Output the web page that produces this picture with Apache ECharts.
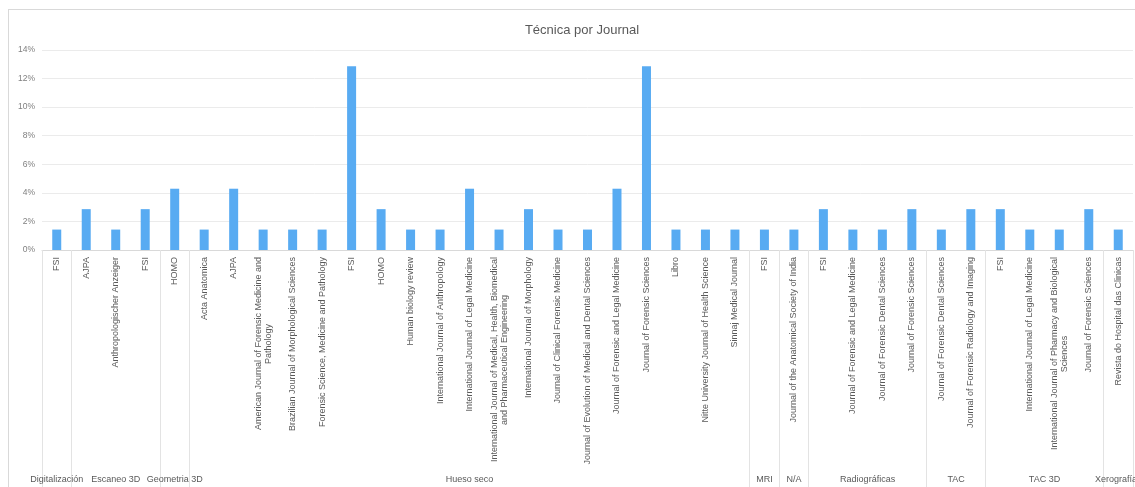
<!DOCTYPE html>
<html>
<head>
<meta charset="utf-8">
<script src="https://cdn.jsdelivr.net/npm/echarts@6/dist/echarts.min.js"></script>
<style>
html,body{margin:0;padding:0;background:#fff;overflow:hidden;}
#frame{position:absolute;left:8px;top:9px;width:1140px;height:490px;border:1px solid #d9d9d9;box-sizing:border-box;}
#chart{position:absolute;left:0;top:0;width:1135px;height:487px;}
</style>
</head>
<body>
<div id="frame"></div>
<div id="chart"></div>
<script>
// Outer grouping (técnica) and how many journals each contains
const groups = ['Digitalización','Escaneo 3D','Geometria 3D','Hueso seco','MRI','N/A','Radiográficas','TAC','TAC 3D','Xerografías'];
const groupCounts = [1, 3, 1, 19, 1, 1, 4, 2, 4, 1];

// Inner categories (journal)
const journals = [
  'FSI',
  'AJPA','Anthropologischer Anzeiger','FSI',
  'HOMO',
  'Acta Anatomica','AJPA','American Journal of Forensic Medicine and\nPathology','Brazilian Journal of Morphological Sciences',
  'Forensic Science, Medicine and Pathology','FSI','HOMO','Human biology review','International Journal of Anthropology',
  'International Journal of Legal Medicine','International Journal of Medical, Health, Biomedical\nand Pharmaceutical Engineering',
  'International Journal of Morphology','Journal of Clinical Forensic Medicine','Journal of Evolution of Medical and Dental Sciences',
  'Journal of Forensic and Legal Medicine','Journal of Forensic Sciences','Libro','Nitte University Journal of Health Science','Sinnaj Medical Journal',
  'FSI',
  'Journal of the Anatomical Society of India',
  'FSI','Journal of Forensic and Legal Medicine','Journal of Forensic Dental Sciences','Journal of Forensic Sciences',
  'Journal of Forensic Dental Sciences','Journal of Forensic Radiology and Imaging',
  'FSI','International Journal of Legal Medicine','International Journal of Pharmacy and Biological\nSciences','Journal of Forensic Sciences',
  'Revista do Hospital das Clinicas'
];

// Percent values
const values = [
  1.43,
  2.86, 1.43, 2.86,
  4.29,
  1.43, 4.29, 1.43, 1.43, 1.43, 12.86, 2.86, 1.43, 1.43, 4.29, 1.43, 2.86, 1.43, 1.43, 4.29, 12.86, 1.43, 1.43, 1.43,
  1.43,
  1.43,
  2.86, 1.43, 1.43, 2.86,
  1.43, 2.86,
  2.86, 1.43, 1.43, 2.86,
  1.43
];

const yTicks = [0, 2, 4, 6, 8, 10, 12, 14];

// group boundaries and centers on a 0..N scale aligned with the category bands
const boundaries = [0];
groupCounts.forEach(c => boundaries.push(boundaries[boundaries.length - 1] + c));
const centers = groupCounts.map((c, i) => boundaries[i] + c / 2);
const centerName = {};
centers.forEach((c, i) => centerName[c] = groups[i]);

const txt = '#595959';
const font = 'Liberation Sans, Arial, sans-serif';
const labelSize = 9;

// measure to center wrapped second lines under the first one
const ctx = document.createElement('canvas').getContext('2d');
ctx.font = labelSize + 'px ' + font;
const richStyles = {};
const labelFormatter = (v, idx) => {
  if (v.indexOf('\n') < 0) return v;
  const parts = v.split('\n');
  const w = Math.ceil(ctx.measureText(parts[0]).width);
  const key = 'w' + idx;
  return '{a|' + parts[0] + '}\n{' + key + '|' + parts[1] + '}';
};
journals.forEach((j, i) => {
  if (j.indexOf('\n') >= 0) {
    const w = Math.ceil(ctx.measureText(j.split('\n')[0]).width);
    richStyles['w' + i] = {width: w, align: 'center', color: txt, fontSize: labelSize, fontFamily: font, lineHeight: 10};
  }
});
richStyles.a = {color: txt, fontSize: labelSize, fontFamily: font, lineHeight: 10};

const chart = echarts.init(document.getElementById('chart'), null, {renderer: 'canvas'});
chart.setOption({
  animation: false,
  backgroundColor: 'transparent',
  title: {
    text: 'Técnica por Journal',
    left: 577,
    textAlign: 'center',
    top: 19,
    textStyle: {color: txt, fontSize: 13, fontWeight: 'normal', fontFamily: font}
  },
  grid: {left: 42, right: 2, top: 50, bottom: 237, containLabel: false, outerBoundsMode: 'none'},
  xAxis: [
    {
      type: 'category',
      data: journals,
      axisLine: {lineStyle: {color: '#d9d9d9'}},
      axisTick: {show: false},
      axisLabel: {
        interval: 0, rotate: 90, margin: 7,
        color: txt, fontSize: labelSize, fontFamily: font, lineHeight: 10,
        formatter: labelFormatter,
        rich: richStyles
      }
    },
    {
      type: 'value',
      min: 0, max: journals.length,
      position: 'bottom',
      offset: 237,
      axisLine: {show: false},
      splitLine: {show: false},
      axisTick: {
        show: true, inside: true, length: 237,
        customValues: boundaries,
        lineStyle: {color: '#e3e3e3'}
      },
      axisLabel: {
        inside: true, margin: 3,
        customValues: centers,
        formatter: v => centerName[v] || '',
        color: txt, fontSize: 9, fontFamily: font
      }
    }
  ],
  yAxis: {
    type: 'value',
    min: yTicks[0], max: yTicks[yTicks.length - 1], interval: 2,
    axisLine: {show: false},
    axisTick: {show: false},
    splitLine: {lineStyle: {color: '#ebebeb'}},
    axisLabel: {formatter: '{value}%', color: '#7f7f7f', fontSize: 8.5, fontFamily: font, margin: 7}
  },
  series: [{
    type: 'bar',
    data: values,
    barWidth: 9,
    itemStyle: {color: '#58abf2'}
  }]
});
</script>
</body>
</html>
